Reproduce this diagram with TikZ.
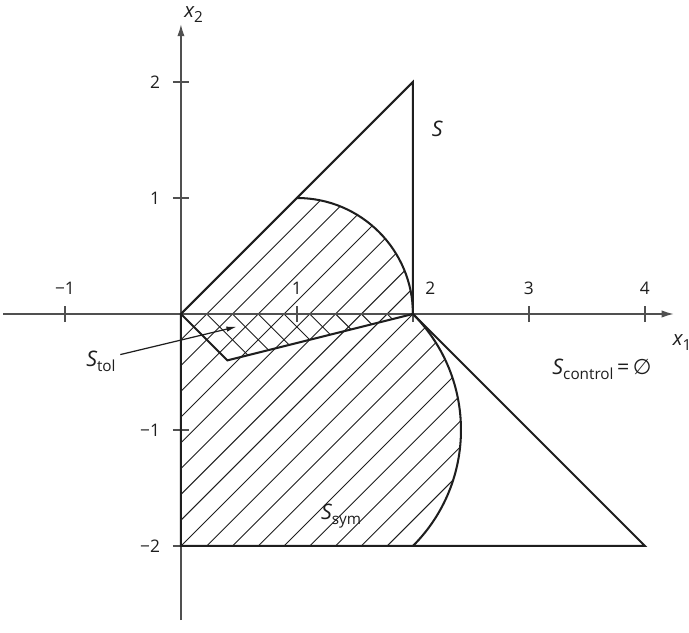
\documentclass[tikz,border=0pt]{standalone}
\usepackage{fontspec}
\setmainfont{Open Sans}
\newfontfamily\symfont{DejaVu Sans}
\usetikzlibrary{arrows.meta}
\definecolor{axisgray}{HTML}{505050}
\definecolor{inkc}{HTML}{1E1E1E}
\newcommand\lowsub[1]{\raisebox{-0.45ex}{\fontsize{7.5}{9}\selectfont\upshape #1}}
\begin{document}
\begin{tikzpicture}[x=2cm,y=2cm,
  axisline/.style={draw=axisgray,line width=0.8pt},
  bound/.style={draw=inkc,line width=1pt,line join=miter},
  hatchline/.style={draw=inkc,line width=0.45pt},
  ticklab/.style={font=\fontsize{8.5}{10}\selectfont,inner sep=1pt,text=inkc},
  setlab/.style={font=\fontsize{10.5}{12}\selectfont\itshape,inner sep=1pt,text=inkc},
  axlab/.style={font=\fontsize{10}{12}\selectfont\itshape,inner sep=1pt,text=inkc}]
\useasboundingbox (-1.56,-2.75) rectangle (4.38,2.707);

% hatching of S_sym
\begin{scope}
  \clip (0,0) -- (1,1) arc[start angle=90,end angle=0,radius=1]
        arc[start angle=45,end angle=-45,radius={sqrt(2)}]
        -- (0,-2) -- cycle;
  \foreach \k in {-30,...,30}{
    \draw[hatchline] ({\k*2/9-4},-4) -- ({\k*2/9+4},4);
  }
\end{scope}
% cross hatching of S_tol
\begin{scope}
  \clip (0,0) -- (0.4,-0.4) -- (2,0) -- cycle;
  \foreach \k in {-5,...,20}{
    \draw[hatchline] ({\k*2/9-3},3) -- ({\k*2/9+3},-3);
  }
\end{scope}

% axes
\coordinate (xs) at (-1.53,0);
\coordinate (xe) at (4.25,0);
\coordinate (ys) at (0,-2.64);
\coordinate (ye) at (0,2.5);
\draw[axisline,-{Latex[length=6pt,width=3.6pt]}] (xs) -- (xe);
\draw[axisline,-{Latex[length=6pt,width=3.6pt]}] (ys) -- (ye);
\foreach \t in {-1,1,2,3,4}{
  \draw[axisline] (\t,-0.07) -- (\t,0.07);
}
\foreach \t in {-2,-1,1,2}{
  \draw[axisline] (-0.07,\t) -- (0.07,\t);
}
\node[ticklab] (tm1) at (-1,0.22) {−1};
\node[ticklab] (t1) at (1,0.22) {1};
\node[ticklab] (t2) at (2.15,0.22) {2};
\node[ticklab] (t3) at (3,0.22) {3};
\node[ticklab] (t4) at (4,0.22) {4};
\node[ticklab,anchor=east] (u2) at (-0.16,2) {2};
\node[ticklab,anchor=east] (u1) at (-0.16,1) {1};
\node[ticklab,anchor=east] (um1) at (-0.16,-1) {−1};
\node[ticklab,anchor=east] (um2) at (-0.16,-2) {−2};
\node[axlab] (x1lab) at (4.32,-0.25) {x\lowsub{1}};
\node[axlab] (x2lab) at (0.11,2.58) {x\lowsub{2}};

% set S
\draw[bound] (0,0) -- (2,2) -- (2,0) -- (4,-2) -- (0,-2) -- cycle;
% arcs of S_sym
\draw[bound] (1,1) arc[start angle=90,end angle=0,radius=1]
             arc[start angle=45,end angle=-45,radius={sqrt(2)}];
% S_tol
\draw[bound] (0,0) -- (0.4,-0.4) -- (2,0);

% labels
\node[setlab] (Slab) at (2.21,1.6) {S};
\node[setlab] (Stol) at (-0.69,-0.41) {S\lowsub{tol}};
\coordinate (tolpt) at (0.48,-0.11);
\draw[draw=inkc,line width=0.6pt,-{Latex[length=5pt,width=2.6pt]}] (Stol.east) ++(0.02,0.06) -- (tolpt);
\node[setlab] (Sctrl) at (3.63,-0.48) {S\lowsub{control}\,{\upshape =}\,{\upshape\symfont ∅}};
\node[setlab] (Ssym) at (1.38,-1.74) {S\lowsub{sym}};
\end{tikzpicture}
\end{document}
